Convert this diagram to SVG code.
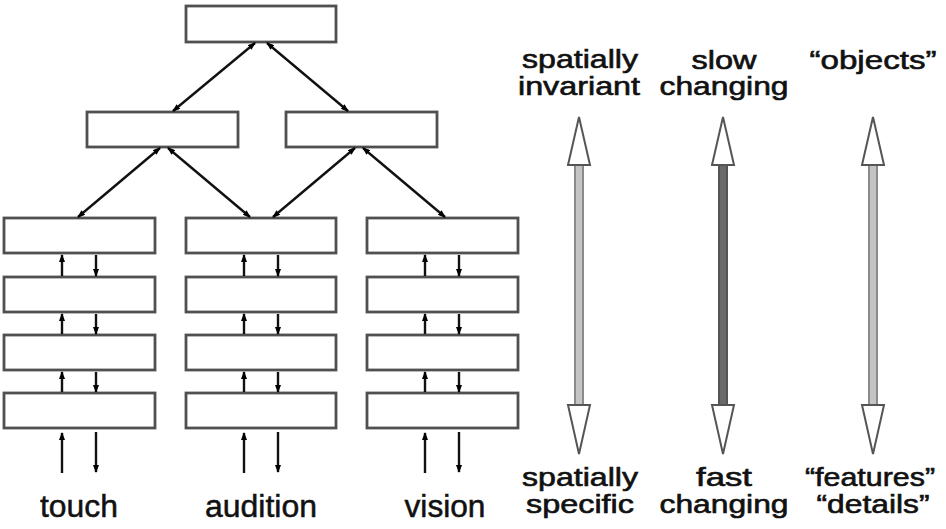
<svg xmlns="http://www.w3.org/2000/svg" width="946" height="529" viewBox="0 0 946 529">
<defs>
<marker id="ah" viewBox="0 0 8 6" refX="7" refY="3" markerWidth="8" markerHeight="6" markerUnits="userSpaceOnUse" orient="auto-start-reverse">
<path d="M0,0 L8,3 L0,6 z" fill="#000"/>
</marker>
<style>
.box{fill:#fff;stroke:#505050;stroke-width:2.8}
.ln{stroke:#111;stroke-width:2.4;fill:none}
.lbl{font-family:"Liberation Sans",Arial,sans-serif;font-size:31px;fill:#111;stroke:#111;stroke-width:0.5;text-anchor:middle}
.rl{font-family:"Liberation Sans",Arial,sans-serif;font-size:25px;fill:#111;stroke:#111;stroke-width:0.6;text-anchor:middle}
.head{fill:#fff;stroke:#555;stroke-width:2}
.shL{fill:#c4c4c4;stroke:#8a8a8a;stroke-width:2}
.shD{fill:#6a6a6a;stroke:#555;stroke-width:2}
</style>
</defs>
<g id="nodes">
<g id="top"><rect class="box" x="186" y="6" width="150" height="36"/></g>
<g id="mid-left"><rect class="box" x="87" y="112" width="151" height="35"/></g>
<g id="mid-right"><rect class="box" x="286" y="112" width="151" height="35"/></g>
<g id="touch-1"><rect class="box" x="4" y="218" width="151" height="35"/></g>
<g id="touch-2"><rect class="box" x="4" y="277" width="151" height="35"/></g>
<g id="touch-3"><rect class="box" x="4" y="335" width="151" height="35"/></g>
<g id="touch-4"><rect class="box" x="4" y="393" width="151" height="35"/></g>
<g id="audition-1"><rect class="box" x="186" y="218" width="150" height="35"/></g>
<g id="audition-2"><rect class="box" x="186" y="277" width="150" height="35"/></g>
<g id="audition-3"><rect class="box" x="186" y="335" width="150" height="35"/></g>
<g id="audition-4"><rect class="box" x="186" y="393" width="150" height="35"/></g>
<g id="vision-1"><rect class="box" x="367" y="218" width="151" height="35"/></g>
<g id="vision-2"><rect class="box" x="367" y="277" width="151" height="35"/></g>
<g id="vision-3"><rect class="box" x="367" y="335" width="151" height="35"/></g>
<g id="vision-4"><rect class="box" x="367" y="393" width="151" height="35"/></g>
</g>
<g id="connectors">
<line class="ln" x1="255" y1="43" x2="173" y2="111" marker-start="url(#ah)" marker-end="url(#ah)"/>
<line class="ln" x1="267" y1="43" x2="348" y2="111" marker-start="url(#ah)" marker-end="url(#ah)"/>
<line class="ln" x1="160" y1="148" x2="78" y2="217" marker-start="url(#ah)" marker-end="url(#ah)"/>
<line class="ln" x1="168" y1="148" x2="250" y2="217" marker-start="url(#ah)" marker-end="url(#ah)"/>
<line class="ln" x1="355" y1="148" x2="273" y2="217" marker-start="url(#ah)" marker-end="url(#ah)"/>
<line class="ln" x1="363" y1="148" x2="445" y2="217" marker-start="url(#ah)" marker-end="url(#ah)"/>
<g id="touch-arrows">
<line class="ln" x1="62" y1="276" x2="62" y2="255" marker-end="url(#ah)"/>
<line class="ln" x1="96" y1="255" x2="96" y2="276" marker-end="url(#ah)"/>
<line class="ln" x1="62" y1="334" x2="62" y2="314" marker-end="url(#ah)"/>
<line class="ln" x1="96" y1="314" x2="96" y2="334" marker-end="url(#ah)"/>
<line class="ln" x1="62" y1="392" x2="62" y2="372" marker-end="url(#ah)"/>
<line class="ln" x1="96" y1="372" x2="96" y2="392" marker-end="url(#ah)"/>
<line class="ln" x1="62" y1="473" x2="62" y2="433" marker-end="url(#ah)"/>
<line class="ln" x1="96" y1="432" x2="96" y2="472" marker-end="url(#ah)"/>
</g>
<g id="audition-arrows">
<line class="ln" x1="244" y1="276" x2="244" y2="255" marker-end="url(#ah)"/>
<line class="ln" x1="278" y1="255" x2="278" y2="276" marker-end="url(#ah)"/>
<line class="ln" x1="244" y1="334" x2="244" y2="314" marker-end="url(#ah)"/>
<line class="ln" x1="278" y1="314" x2="278" y2="334" marker-end="url(#ah)"/>
<line class="ln" x1="244" y1="392" x2="244" y2="372" marker-end="url(#ah)"/>
<line class="ln" x1="278" y1="372" x2="278" y2="392" marker-end="url(#ah)"/>
<line class="ln" x1="244" y1="473" x2="244" y2="433" marker-end="url(#ah)"/>
<line class="ln" x1="278" y1="432" x2="278" y2="472" marker-end="url(#ah)"/>
</g>
<g id="vision-arrows">
<line class="ln" x1="425" y1="276" x2="425" y2="255" marker-end="url(#ah)"/>
<line class="ln" x1="459" y1="255" x2="459" y2="276" marker-end="url(#ah)"/>
<line class="ln" x1="425" y1="334" x2="425" y2="314" marker-end="url(#ah)"/>
<line class="ln" x1="459" y1="314" x2="459" y2="334" marker-end="url(#ah)"/>
<line class="ln" x1="425" y1="392" x2="425" y2="372" marker-end="url(#ah)"/>
<line class="ln" x1="459" y1="372" x2="459" y2="392" marker-end="url(#ah)"/>
<line class="ln" x1="425" y1="473" x2="425" y2="433" marker-end="url(#ah)"/>
<line class="ln" x1="459" y1="432" x2="459" y2="472" marker-end="url(#ah)"/>
</g>
</g>
<g id="labels">
<text class="lbl" x="79" y="517" textLength="78" lengthAdjust="spacingAndGlyphs">touch</text>
<text class="lbl" x="261" y="517" textLength="112" lengthAdjust="spacingAndGlyphs">audition</text>
<text class="lbl" x="445" y="517" textLength="81" lengthAdjust="spacingAndGlyphs">vision</text>
</g>
<g id="scale-spatial">
<rect class="shL" x="575" y="164" width="8" height="242"/>
<polygon class="head" points="579,117 590,165 568,165"/>
<polygon class="head" points="579,454 590,405 568,405"/>
<text class="rl" x="580" y="68" textLength="116" lengthAdjust="spacingAndGlyphs">spatially</text>
<text class="rl" x="579" y="95" textLength="122" lengthAdjust="spacingAndGlyphs">invariant</text>
<text class="rl" x="580" y="486" textLength="116" lengthAdjust="spacingAndGlyphs">spatially</text>
<text class="rl" x="580" y="513" textLength="108" lengthAdjust="spacingAndGlyphs">specific</text>
</g>
<g id="scale-time">
<rect class="shD" x="719" y="164" width="8" height="242"/>
<polygon class="head" points="723,117 734,165 712,165"/>
<polygon class="head" points="723,454 734,405 712,405"/>
<text class="rl" x="724" y="69" textLength="65" lengthAdjust="spacingAndGlyphs">slow</text>
<text class="rl" x="724" y="95" textLength="129" lengthAdjust="spacingAndGlyphs">changing</text>
<text class="rl" x="724" y="486" textLength="56" lengthAdjust="spacingAndGlyphs">fast</text>
<text class="rl" x="724" y="513" textLength="129" lengthAdjust="spacingAndGlyphs">changing</text>
</g>
<g id="scale-objects">
<rect class="shL" x="869" y="164" width="8" height="242"/>
<polygon class="head" points="873,117 884,165 862,165"/>
<polygon class="head" points="873,454 884,405 862,405"/>
<text class="rl" x="873" y="69" textLength="127" lengthAdjust="spacingAndGlyphs">“objects”</text>
<text class="rl" x="870" y="486" textLength="130" lengthAdjust="spacingAndGlyphs">“features”</text>
<text class="rl" x="873" y="513" textLength="113" lengthAdjust="spacingAndGlyphs">“details”</text>
</g>
</svg>
